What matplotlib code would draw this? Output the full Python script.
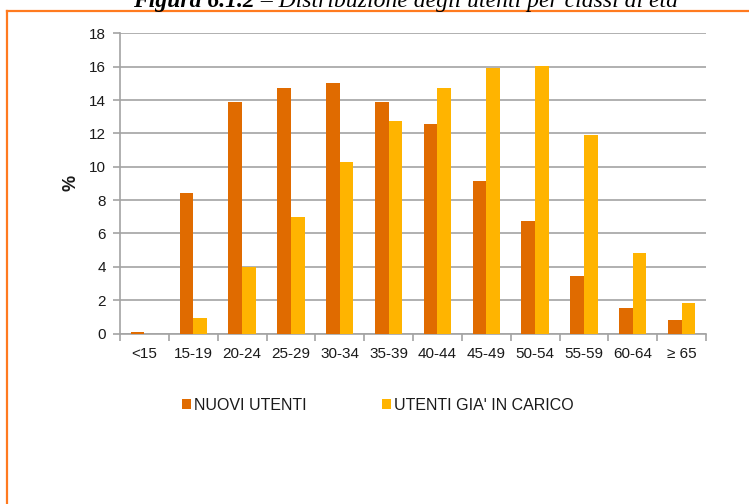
import matplotlib
matplotlib.use("Agg")
import matplotlib.pyplot as plt
from matplotlib.patches import Patch
from matplotlib.lines import Line2D
import numpy as np

categories = ["<15", "15-19", "20-24", "25-29", "30-34", "35-39", "40-44",
              "45-49", "50-54", "55-59", "60-64", "\u2265 65"]
nuovi_utenti = [0.1, 8.4, 13.9, 14.7, 15.0, 13.9, 12.55, 9.15, 6.75, 3.45, 1.5, 0.8]
utenti_in_carico = [0.0, 0.95, 4.0, 7.0, 10.3, 12.75, 14.75, 15.9, 16.05, 11.9, 4.8, 1.85]
series_labels = ["NUOVI UTENTI", "UTENTI GIA' IN CARICO"]
yticks = [0, 2, 4, 6, 8, 10, 12, 14, 16, 18]
title_bold = "Figura 6.1.2"
title_rest = " \u2013 Distribuzione degli utenti per classi di et\u00e0"

C_ORANGE = "#E06B00"
C_YELLOW = "#FFB400"
C_GRID = "#A3A3A3"
C_FRAME = "#FF7A1F"
TXT = "#1A1A1A"

plt.rcParams["font.family"] = ["Liberation Sans", "DejaVu Sans"]

W, H = 749, 504
fig = plt.figure(figsize=(W / 100, H / 100), dpi=100)

# axes placement in pixels
x0, x1, ytop, ybot = 120, 706, 33.3, 333.5
ax = fig.add_axes([x0 / W, (H - ybot) / H, (x1 - x0) / W, (ybot - ytop) / H])

x = np.arange(len(categories))
bw = 0.28
ax.bar(x - bw / 2, nuovi_utenti, width=bw, color=C_ORANGE, zorder=3,
       label=series_labels[0])
ax.bar(x + bw / 2, utenti_in_carico, width=bw, color=C_YELLOW, zorder=3,
       label=series_labels[1])

ax.set_xlim(-0.5, len(categories) - 0.5)
ax.set_ylim(0, 18)
ax.set_yticks(yticks)
ax.yaxis.grid(True, color=C_GRID, linewidth=1.2, zorder=0)
ax.set_axisbelow(True)

ax.set_xticks(x)
ax.set_xticklabels(categories, fontsize=11, color=TXT)
ax.set_xticks(np.arange(len(categories) + 1) - 0.5, minor=True)
ax.tick_params(axis="x", which="major", length=0, pad=10)
ax.tick_params(axis="x", which="minor", length=5, color=C_GRID, width=1.2)
ax.tick_params(axis="y", length=5, color=C_GRID, width=1.2, pad=5,
               labelsize=11, labelcolor=TXT)

for s in ["top", "right"]:
    ax.spines[s].set_visible(False)
for s in ["left", "bottom"]:
    ax.spines[s].set_color(C_GRID)
    ax.spines[s].set_linewidth(1.2)

ax.set_ylabel("%", fontsize=13, fontweight="bold", color=TXT)
ax.yaxis.set_label_coords((79 - x0) / (x1 - x0), 0.5)

# legend
handles = [Patch(facecolor=C_ORANGE, edgecolor="none"),
           Patch(facecolor=C_YELLOW, edgecolor="none")]
fig.legend(handles, series_labels, loc="center left",
           bbox_to_anchor=(182 / W, 1 - 405.5 / H), ncol=2, frameon=False,
           fontsize=11.5, handlelength=0.55, handleheight=0.6,
           handletextpad=0.2, columnspacing=4.75, borderpad=0,
           borderaxespad=0, labelcolor=TXT)

# orange frame (extends beyond right and bottom)
fig.add_artist(Line2D([7 / W, 1.01], [1 - 11 / H, 1 - 11 / H],
                      transform=fig.transFigure, color=C_FRAME, linewidth=1.6))
fig.add_artist(Line2D([7 / W, 7 / W], [1 - 11 / H, -0.01],
                      transform=fig.transFigure, color=C_FRAME, linewidth=1.6))

# title (partially cut off at the top, as in the source)
serif = ["Liberation Serif", "DejaVu Serif"]
t1 = fig.text(133 / W, 1 - 7.5 / H, title_bold, fontsize=17,
              family=serif, style="italic", fontweight="bold",
              va="baseline", ha="left", color="black")
fig.canvas.draw()
bb = t1.get_window_extent()
fig.text(bb.x1 / W, 1 - 7.5 / H, title_rest, fontsize=17, family=serif,
         style="italic", va="baseline", ha="left", color="black")

fig.savefig("out.png", dpi=100)
